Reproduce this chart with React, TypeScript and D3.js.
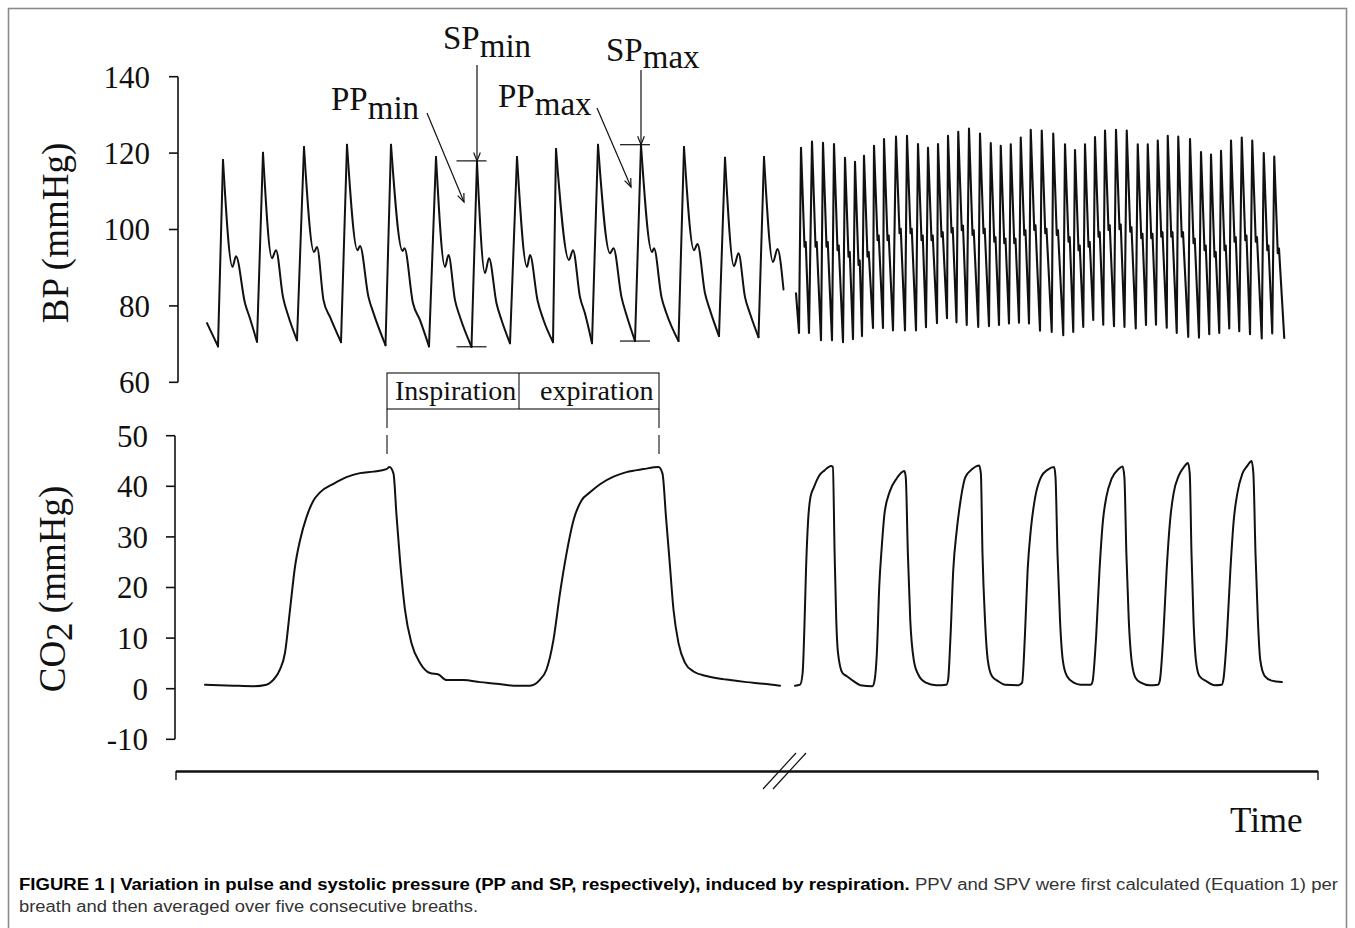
import React from 'react';
import * as d3 from 'd3';

type P = [number, number];

// ---------- axis ticks ----------
const bpTicks = [60, 80, 100, 120, 140];
const co2Ticks = [-10, 0, 10, 20, 30, 40, 50];

// ---------- left BP trace (time s, mmHg) ----------
const leftBpStart: P = [0.14, 75.5];
const leftBpEnd: P = [11.67, 84.3];
const leftBpTroughs: P[] = [[0.36, 69.4], [1.14, 70.6], [1.94, 71.0], [2.82, 70.5], [3.71, 69.7], [4.58, 69.4], [5.43, 69.3], [6.20, 70.2], [7.06, 70.5], [7.84, 70.2], [8.70, 70.8], [9.57, 70.8], [10.38, 72.1], [11.17, 71.8]];
const leftBpPeaks: P[] = [[0.46, 118.2], [1.26, 120.1], [2.08, 121.6], [2.94, 122.2], [3.82, 122.2], [4.72, 119.0], [5.54, 117.7], [6.34, 119.0], [7.12, 121.1], [7.96, 122.2], [8.82, 122.2], [9.68, 121.6], [10.50, 118.8], [11.28, 119.0]];
const leftBpNotches: P[] = [[0.65, 90.2], [1.44, 92.5], [2.28, 94.1], [3.15, 94.6], [4.05, 94.4], [4.90, 90.2], [5.70, 88.6], [6.54, 90.2], [7.38, 92.0], [8.20, 93.8], [9.04, 94.1], [9.88, 94.6], [10.68, 90.4], [11.46, 91.5]];
const leftBpBumps: P[] = [[0.72, 93.0], [1.52, 94.6], [2.34, 95.4], [3.20, 95.7], [4.09, 95.1], [4.97, 93.3], [5.78, 92.5], [6.60, 93.3], [7.46, 94.6], [8.27, 95.1], [9.08, 95.1], [9.95, 96.2], [10.77, 93.8], [11.55, 94.9]];
const leftBpKnees: P[] = [[0.90, 80.7], [1.66, 82.3], [2.47, 81.5], [3.37, 82.3], [4.26, 80.7], [5.10, 81.5], [5.93, 80.7], [6.75, 81.5], [7.60, 82.3], [8.43, 82.3], [9.23, 82.3], [10.10, 83.3], [10.90, 82.3]];
const leftBpLate: P[] = [[1.00, 76.7], [1.76, 77.6], [2.60, 77.1], [3.47, 78.1], [4.40, 76.3], [5.20, 77.1], [6.03, 76.3], [6.87, 76.3], [7.70, 78.0], [8.53, 77.6], [9.33, 78.0], [10.20, 78.9], [11.00, 78.0]];

// ---------- right BP trace (compressed time, s) ----------
const rightBpStart: P = [0.24, 83.3];
const rightBpEnd: P = [39.30, 71.6];
const rightBpTroughs: P[] = [[0.48, 72.9], [1.28, 72.9], [2.24, 71.0], [3.12, 71.0], [4.00, 70.5], [4.80, 71.3], [5.52, 72.1], [6.40, 74.2], [7.20, 74.2], [8.00, 73.6], [8.96, 73.6], [9.84, 73.6], [10.64, 74.4], [11.52, 75.5], [12.32, 76.8], [13.08, 75.7], [13.90, 75.0], [14.82, 74.5], [15.68, 74.7], [16.48, 75.0], [17.28, 75.4], [18.08, 75.6], [18.88, 75.4], [19.76, 73.5], [20.70, 73.2], [21.62, 72.3], [22.42, 73.2], [23.22, 74.5], [24.02, 76.3], [24.82, 75.1], [25.68, 74.7], [26.52, 74.5], [27.42, 74.1], [28.24, 75.0], [29.04, 75.1], [29.90, 74.3], [30.70, 72.9], [31.62, 71.9], [32.48, 71.7], [33.30, 72.6], [34.10, 72.9], [34.90, 74.1], [35.70, 73.4], [36.56, 72.6], [37.50, 71.5], [38.34, 72.8]];
const rightBpPeaks: P[] = [[0.64, 121.4], [1.52, 123.0], [2.40, 122.7], [3.28, 122.4], [4.16, 118.8], [4.96, 117.7], [5.68, 119.3], [6.48, 121.9], [7.28, 123.7], [8.24, 124.3], [9.12, 124.5], [10.00, 122.4], [10.80, 121.4], [11.60, 122.4], [12.40, 124.5], [13.22, 125.6], [14.08, 126.4], [14.96, 125.1], [15.82, 122.6], [16.62, 121.9], [17.42, 122.3], [18.22, 124.1], [19.02, 126.1], [19.90, 125.9], [20.82, 125.1], [21.76, 122.3], [22.56, 120.8], [23.36, 122.3], [24.16, 124.2], [24.96, 125.9], [25.84, 126.1], [26.70, 125.9], [27.58, 122.3], [28.38, 122.3], [29.18, 123.3], [29.98, 124.5], [30.82, 124.3], [31.76, 123.7], [32.64, 120.3], [33.44, 119.6], [34.24, 120.6], [35.04, 123.3], [35.90, 124.1], [36.74, 123.3], [37.66, 120.0], [38.50, 119.1]];
const rightBpNotches: P[] = [[0.92, 95.5], [1.80, 95.5], [2.68, 95.5], [3.56, 94.6], [4.44, 92.9], [5.24, 90.7], [5.96, 92.9], [6.76, 97.2], [7.56, 97.2], [8.52, 99.0], [9.40, 99.0], [10.28, 97.2], [11.08, 97.2], [11.88, 98.1], [12.68, 99.2], [13.50, 99.8], [14.36, 98.6], [15.24, 99.0], [16.10, 96.8], [16.90, 96.4], [17.70, 96.4], [18.50, 98.6], [19.30, 99.9], [20.18, 99.0], [21.10, 98.6], [22.04, 96.8], [22.84, 94.6], [23.64, 95.5], [24.44, 98.1], [25.24, 99.9], [26.12, 100.1], [26.98, 99.4], [27.86, 97.7], [28.66, 97.7], [29.46, 98.1], [30.26, 98.1], [31.10, 98.1], [32.04, 96.4], [32.92, 94.6], [33.72, 92.9], [34.52, 94.6], [35.32, 96.8], [36.18, 97.2], [37.02, 96.8], [37.94, 94.6], [38.78, 93.8]];
const rightBpBumps: P[] = [[1.02, 96.7], [1.90, 96.7], [2.78, 96.7], [3.66, 95.8], [4.54, 94.1], [5.34, 91.9], [6.06, 94.1], [6.86, 98.4], [7.66, 98.4], [8.62, 100.2], [9.50, 100.2], [10.38, 98.4], [11.18, 98.4], [11.98, 99.3], [12.78, 100.4], [13.60, 101.0], [14.46, 99.8], [15.34, 100.2], [16.20, 98.0], [17.00, 97.6], [17.80, 97.6], [18.60, 99.8], [19.40, 101.1], [20.28, 100.2], [21.20, 99.8], [22.14, 98.0], [22.94, 95.8], [23.74, 96.7], [24.54, 99.3], [25.34, 101.1], [26.22, 101.3], [27.08, 100.6], [27.96, 98.9], [28.76, 98.9], [29.56, 99.3], [30.36, 99.3], [31.20, 99.3], [32.14, 97.6], [33.02, 95.8], [33.82, 94.1], [34.62, 95.8], [35.42, 98.0], [36.28, 98.4], [37.12, 98.0], [38.04, 95.8], [38.88, 95.0]];

// ---------- left CO2 trace (time s, mmHg) ----------
const leftCo2: P[] = [[0.10, 0.8], [0.67, 0.6], [1.07, 0.5], [1.33, 0.8], [1.47, 1.8], [1.60, 3.8], [1.70, 7.1], [1.80, 15.6], [1.90, 24.1], [2.00, 29.3], [2.13, 33.9], [2.27, 37.2], [2.40, 38.8], [2.67, 40.5], [2.93, 41.8], [3.20, 42.6], [3.47, 42.9], [3.73, 43.4], [3.79, 43.8], [3.87, 42.5], [3.93, 34.3], [4.00, 25.4], [4.10, 15.6], [4.23, 9.0], [4.40, 5.1], [4.60, 3.1], [4.77, 2.8], [4.93, 1.7], [5.27, 1.7], [5.60, 1.3], [5.93, 1.0], [6.27, 0.6], [6.60, 0.6], [6.80, 1.8], [6.93, 3.8], [7.07, 9.7], [7.20, 18.9], [7.33, 26.7], [7.47, 33.3], [7.63, 37.2], [7.80, 38.8], [8.00, 40.4], [8.27, 41.9], [8.53, 42.8], [8.87, 43.4], [9.17, 43.8], [9.25, 42.5], [9.32, 33.9], [9.39, 25.4], [9.47, 15.6], [9.57, 9.0], [9.70, 5.1], [9.87, 3.4], [10.13, 2.5], [10.53, 1.8], [10.93, 1.3], [11.27, 1.0], [11.60, 0.6]];

// ---------- right CO2 trace (compressed time, s) ----------
const rightCo2: P[] = [[0.16, 0.6], [0.57, 0.8], [0.77, 3.1], [0.93, 13.6], [1.04, 23.4], [1.21, 33.3], [1.40, 37.9], [1.67, 39.8], [2.09, 42.1], [2.50, 43.1], [3.05, 44.0], [3.19, 43.8], [3.33, 26.7], [3.46, 13.6], [3.60, 7.1], [3.96, 3.1], [4.29, 2.5], [4.84, 1.5], [5.39, 0.7], [6.35, 0.5], [6.49, 1.2], [6.71, 7.1], [6.90, 20.2], [7.10, 28.0], [7.32, 34.6], [7.73, 38.9], [8.28, 41.5], [8.91, 43.0], [9.02, 41.8], [9.19, 26.7], [9.38, 13.6], [9.66, 5.7], [10.02, 2.8], [10.62, 1.2], [11.45, 0.7], [12.27, 0.8], [12.41, 1.8], [12.60, 10.3], [12.82, 23.4], [13.10, 31.3], [13.37, 36.6], [13.79, 41.8], [14.34, 43.4], [14.89, 44.1], [15.03, 42.5], [15.16, 26.7], [15.36, 13.6], [15.58, 5.7], [15.91, 2.5], [16.40, 1.5], [16.95, 0.8], [18.05, 0.7], [18.33, 1.2], [18.55, 10.3], [18.77, 23.4], [19.02, 31.3], [19.38, 37.9], [19.84, 41.8], [20.39, 43.3], [20.89, 43.8], [21.00, 41.8], [21.16, 26.7], [21.36, 13.6], [21.58, 5.7], [21.91, 2.5], [22.46, 1.2], [23.01, 0.8], [23.84, 0.8], [23.97, 1.5], [24.25, 10.3], [24.52, 23.4], [24.80, 33.3], [25.07, 37.9], [25.49, 41.5], [26.04, 43.4], [26.37, 43.9], [26.51, 41.8], [26.67, 26.7], [26.86, 13.6], [27.08, 5.7], [27.41, 2.1], [27.83, 1.2], [28.52, 0.7], [29.20, 0.8], [29.34, 1.5], [29.62, 10.3], [29.89, 23.4], [30.17, 33.3], [30.44, 38.5], [30.86, 42.1], [31.27, 43.8], [31.60, 44.6], [31.74, 42.5], [31.88, 26.7], [32.04, 13.6], [32.23, 5.7], [32.51, 2.5], [33.06, 1.5], [33.75, 0.7], [34.30, 0.8], [34.43, 1.8], [34.71, 10.3], [34.99, 23.4], [35.26, 33.3], [35.54, 38.5], [35.95, 42.5], [36.36, 44.1], [36.69, 45.0], [36.83, 42.5], [37.00, 26.7], [37.19, 13.6], [37.38, 5.7], [37.74, 2.5], [38.29, 1.6], [39.11, 1.3]];

// ---------- respiration phases (left time axis, s) ----------
const phaseBounds = [3.74, 6.38, 9.18];
const phaseLabels = ['Inspiration', 'expiration'];

// beat indices used for annotations
const spMinBeat = 6;
const spMaxBeat = 10;

const serif = '"Liberation Serif", "Times New Roman", Times, serif';
const sans = '"Liberation Sans", Arial, Helvetica, sans-serif';

function arrowHead(x1: number, y1: number, x2: number, y2: number, len = 9, ang = 0.38) {
  const a = Math.atan2(y2 - y1, x2 - x1);
  const ax = x2 - len * Math.cos(a - ang), ay = y2 - len * Math.sin(a - ang);
  const bx = x2 - len * Math.cos(a + ang), by = y2 - len * Math.sin(a + ang);
  return `M${ax},${ay}L${x2},${y2}L${bx},${by}`;
}

export default function App() {
  const xL = d3.scaleLinear().domain([0, 11.7]).range([200, 785]);
  const xR = d3.scaleLinear().domain([0, 39.36]).range([793, 1285]);
  const yBP = d3.scaleLinear().domain([60, 140]).range([382.3, 76.7]);
  const yCO2 = d3.scaleLinear().domain([-10, 50]).range([739.3, 435.7]);

  const linL = d3.line<P>().x(d => xL(d[0])).y(d => yBP(d[1]));
  const monoL = d3.line<P>().x(d => xL(d[0])).y(d => yBP(d[1])).curve(d3.curveMonotoneX);
  const linR = d3.line<P>().x(d => xR(d[0])).y(d => yBP(d[1]));
  const co2L = d3.line<P>().x(d => xL(d[0])).y(d => yCO2(d[1])).curve(d3.curveMonotoneX);
  const co2R = d3.line<P>().x(d => xR(d[0])).y(d => yCO2(d[1])).curve(d3.curveMonotoneX);

  // left BP segments
  const leftSegs: string[] = [];
  leftSegs.push(linL([leftBpStart, leftBpTroughs[0]]) as string);
  leftBpPeaks.forEach((pk, i) => {
    leftSegs.push(linL([leftBpTroughs[i], pk]) as string);
    const desc: P[] = i < leftBpKnees.length
      ? [pk, leftBpNotches[i], leftBpBumps[i], leftBpKnees[i], leftBpLate[i], leftBpTroughs[i + 1]]
      : [pk, leftBpNotches[i], leftBpBumps[i], leftBpEnd];
    leftSegs.push(monoL(desc) as string);
  });

  const rightPts: P[] = [rightBpStart, ...rightBpTroughs, ...rightBpPeaks, ...rightBpNotches, ...rightBpBumps, rightBpEnd]
    .slice().sort((a, b) => a[0] - b[0]);

  const bpAxisX = 178;
  const co2AxisX = 175;

  // annotations
  const spMinX = xL(leftBpPeaks[spMinBeat][0]);
  const spMinTop = yBP(leftBpPeaks[spMinBeat][1]) - 1;
  const spMinBot = yBP(leftBpTroughs[spMinBeat][1]);
  const spMinC = xL(leftBpTroughs[spMinBeat][0]);
  const spMaxX = xL(leftBpPeaks[spMaxBeat][0]);
  const spMaxTop = yBP(leftBpPeaks[spMaxBeat][1]);
  const spMaxBot = yBP(leftBpTroughs[spMaxBeat][1]);
  const spMaxC = xL(leftBpTroughs[spMaxBeat][0]);

  const boxTop = 373, boxBot = 409;
  const px = phaseBounds.map(t => xL(t));

  const ink = '#111';

  return (
    <svg width={1355} height={928} style={{ position: 'absolute', left: 0, top: 0, background: '#fff' }}
      xmlns="http://www.w3.org/2000/svg">
      <rect x={0} y={0} width={1355} height={928} fill="#fff" />
      <rect x={8.5} y={8.5} width={1338} height={940} fill="none" stroke="#8a8a8a" strokeWidth={1.6} />

      {/* BP axis */}
      <g fontFamily={serif} fill={ink}>
        <line x1={bpAxisX} x2={bpAxisX} y1={yBP(140)} y2={yBP(60)} stroke={ink} strokeWidth={1.6} />
        {bpTicks.map(t => (
          <g key={'b' + t}>
            <line x1={bpAxisX - 9} x2={bpAxisX} y1={yBP(t)} y2={yBP(t)} stroke={ink} strokeWidth={1.6} />
            <text x={150} y={yBP(t)} dy="0.35em" textAnchor="end" fontSize={31}>{t}</text>
          </g>
        ))}
        <text transform={`translate(68,233) rotate(-90)`} textAnchor="middle" fontSize={37}>BP (mmHg)</text>
      </g>

      {/* CO2 axis */}
      <g fontFamily={serif} fill={ink}>
        <line x1={co2AxisX} x2={co2AxisX} y1={yCO2(50)} y2={yCO2(-10)} stroke={ink} strokeWidth={1.6} />
        {co2Ticks.map(t => (
          <g key={'c' + t}>
            <line x1={co2AxisX - 9} x2={co2AxisX} y1={yCO2(t)} y2={yCO2(t)} stroke={ink} strokeWidth={1.6} />
            <text x={148} y={yCO2(t)} dy="0.35em" textAnchor="end" fontSize={31}>{t}</text>
          </g>
        ))}
        <text transform={`translate(65,589) rotate(-90)`} textAnchor="middle" fontSize={37}>
          CO<tspan dy={7}>2</tspan><tspan dy={-7}> (mmHg)</tspan>
        </text>
      </g>

      {/* Time axis */}
      <g stroke={ink}>
        <line x1={176} x2={1318} y1={771.5} y2={771.5} strokeWidth={2.4} />
        <line x1={176} x2={176} y1={771} y2={780} strokeWidth={1.4} />
        <line x1={1318} x2={1318} y1={771} y2={780} strokeWidth={1.4} />
        <line x1={763} y1={789} x2={796} y2={753} strokeWidth={1.2} />
        <line x1={773} y1={789} x2={806} y2={753} strokeWidth={1.2} />
      </g>
      <text x={1230} y={832} fontFamily={serif} fontSize={35} fill={ink}>Time</text>

      {/* traces */}
      <g fill="none" stroke={ink} strokeWidth={2} strokeLinejoin="round" strokeLinecap="round">
        {leftSegs.map((d, i) => <path key={'l' + i} d={d} />)}
        <path d={linR(rightPts) as string} strokeWidth={2.1} />
        <path d={co2L(leftCo2) as string} />
        <path d={co2R(rightCo2) as string} />
      </g>

      {/* SP / PP annotations */}
      <g stroke={ink} fill="none" strokeWidth={1.2}>
        <line x1={spMinC - 15} x2={spMinC + 15} y1={spMinTop} y2={spMinTop} />
        <line x1={spMinC - 15} x2={spMinC + 15} y1={spMinBot} y2={spMinBot} />
        <line x1={spMinX} x2={spMinX} y1={65} y2={spMinTop} />
        <path d={arrowHead(spMinX, 65, spMinX, spMinTop)} />
        <line x1={spMaxC - 15} x2={spMaxC + 15} y1={spMaxTop} y2={spMaxTop} />
        <line x1={spMaxC - 15} x2={spMaxC + 15} y1={spMaxBot} y2={spMaxBot} />
        <line x1={spMaxX} x2={spMaxX} y1={70} y2={spMaxTop} />
        <path d={arrowHead(spMaxX, 70, spMaxX, spMaxTop)} />
        <line x1={427} y1={113} x2={464} y2={202} />
        <path d={arrowHead(427, 113, 464, 202)} />
        <line x1={597} y1={108} x2={631} y2={187} />
        <path d={arrowHead(597, 108, 631, 187)} />
      </g>
      <g fontFamily={serif} fill={ink} fontSize={33}>
        <text x={443} y={49}>SP<tspan dy={8}>min</tspan></text>
        <text x={606} y={61}>SP<tspan dy={7}>max</tspan></text>
        <text x={331} y={110}>PP<tspan dy={9}>min</tspan></text>
        <text x={498} y={107}>PP<tspan dy={8}>max</tspan></text>
      </g>

      {/* respiration phase box */}
      <g stroke={ink} fill="none" strokeWidth={1.1}>
        <rect x={px[0]} y={boxTop} width={px[2] - px[0]} height={boxBot - boxTop} />
        <line x1={px[1]} x2={px[1]} y1={boxTop} y2={boxBot} />
        <line x1={px[0]} x2={px[0]} y1={boxBot} y2={460} strokeDasharray="19 7" />
        <line x1={px[2]} x2={px[2]} y1={boxBot} y2={460} strokeDasharray="19 7" />
      </g>
      <g fontFamily={serif} fill={ink} fontSize={28}>
        <text x={px[0] + 8} y={400}>{phaseLabels[0]}</text>
        <text x={px[1] + 21} y={400}>{phaseLabels[1]}</text>
      </g>

      {/* caption */}
      <g fontFamily={sans} fontSize={16}>
        <text x={19} y={890} textLength={1319} lengthAdjust="spacingAndGlyphs">
          <tspan fontWeight="bold" fill="#000">FIGURE 1 | Variation in pulse and systolic pressure (PP and SP, respectively), induced by respiration.</tspan>
          <tspan fill="#333"> PPV and SPV were first calculated (Equation 1) per</tspan>
        </text>
        <text x={19} y={912} fill="#333" textLength={459} lengthAdjust="spacingAndGlyphs">breath and then averaged over five consecutive breaths.</text>
      </g>
    </svg>
  );
}
